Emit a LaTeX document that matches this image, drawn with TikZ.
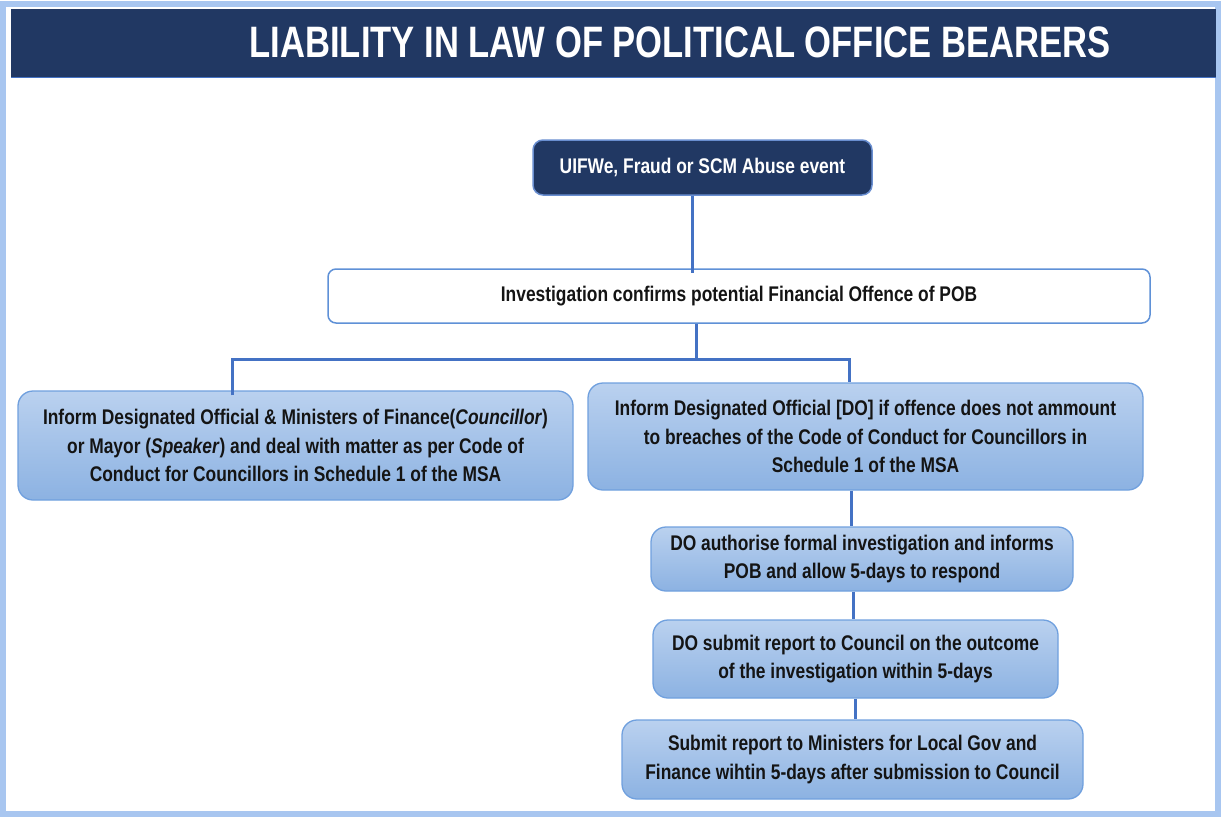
\documentclass[tikz,border=0pt]{standalone}
\usepackage{fontspec}
\setmainfont{Liberation Sans}
\newfontfamily\narrowfont[FakeStretch=0.82]{Liberation Sans}
\newfontfamily\titlefont[FakeStretch=0.786]{Liberation Sans}
\definecolor{navy}{RGB}{33,56,99}
\definecolor{framec}{RGB}{168,198,240}
\definecolor{connc}{RGB}{68,114,196}
\definecolor{invb}{RGB}{95,145,215}
\definecolor{gtop}{RGB}{186,209,239}
\definecolor{gbot}{RGB}{140,178,226}
\definecolor{gbord}{RGB}{112,160,222}
\definecolor{txt}{RGB}{20,20,20}
\tikzset{
  conn/.style={draw=connc, line width=3pt},
  boxtext/.style={font=\narrowfont\bfseries\fontsize{21.2}{28.5}\selectfont, align=center, inner sep=0pt},
  gbox/.style={boxtext, rounded corners=15pt, top color=gtop, bottom color=gbot, draw=gbord, line width=1.3pt, text=txt},
  invbox/.style={boxtext, rounded corners=8pt, fill=white, draw=invb, line width=1.5pt, text=txt},
  evbox/.style={boxtext, rounded corners=10pt, fill=navy, draw=connc!80!white, line width=1.5pt, text=white},
}
\begin{document}
\begin{tikzpicture}[x=1pt,y=-1pt]
\useasboundingbox (0,0) rectangle (1222,817);
% frame
\draw[framec, line width=6pt] (3,4) rectangle (1218,814);
% title bar
\fill[navy] (11,9) rectangle (1216,77);
\draw[connc, line width=1pt] (11,77) -- (1216,77);
\node[font=\titlefont\bfseries\fontsize{44}{44}\selectfont, text=white, inner sep=0pt] (title) at (680,42) {LIABILITY IN LAW OF POLITICAL OFFICE BEARERS};
% nodes
\node[evbox, minimum width=339pt, minimum height=55pt] (ev) at (702.5,167.5) {UIFWe, Fraud or SCM Abuse event};
\node[invbox, minimum width=822pt, minimum height=54pt] (inv) at (739,296) {Investigation confirms potential Financial Offence of POB};
\node[gbox, minimum width=555pt, minimum height=109pt] (left) at (295.5,445.5) {Inform Designated Official \& Ministers of Finance(\textit{Councillor})\\or Mayor (\textit{Speaker}) and deal with matter as per Code of\\Conduct for Councillors in Schedule 1 of the MSA};
\node[gbox, minimum width=555pt, minimum height=107pt] (right) at (865.5,436.5) {Inform Designated Official [DO] if offence does not ammount\\to breaches of the Code of Conduct for Councillors in\\Schedule 1 of the MSA};
\node[gbox, minimum width=422pt, minimum height=64pt] (do1) at (862,559) {DO authorise formal investigation and informs\\POB and allow 5-days to respond};
\node[gbox, minimum width=405pt, minimum height=78pt] (do2) at (855.5,659) {DO submit report to Council on the outcome\\of the investigation within 5-days};
\node[gbox, minimum width=461pt, minimum height=79pt] (do3) at (852.5,759.5) {Submit report to Ministers for Local Gov and\\Finance wihtin 5-days after submission to Council};
% connectors
\draw[conn] ([xshift=-10.5pt]ev.south) -- ([xshift=-10.5pt,yshift=-5pt]ev.south |- inv.north);
\draw[conn] ([xshift=-43pt]inv.south) -- ++(0,36) coordinate (bj);
\draw[conn] ([xshift=-63.5pt,yshift=-5pt]left.north) |- (bj) -| ([xshift=-16.5pt]right.north);
\draw[conn] ([xshift=-14.5pt]right.south) -- ([xshift=-14.5pt]right.south |- do1.north);
\draw[conn] ([xshift=-9pt]do1.south) -- ([xshift=-9pt]do1.south |- do2.north);
\draw[conn] (do2.south) -- (do2.south |- do3.north);
\end{tikzpicture}
\end{document}
